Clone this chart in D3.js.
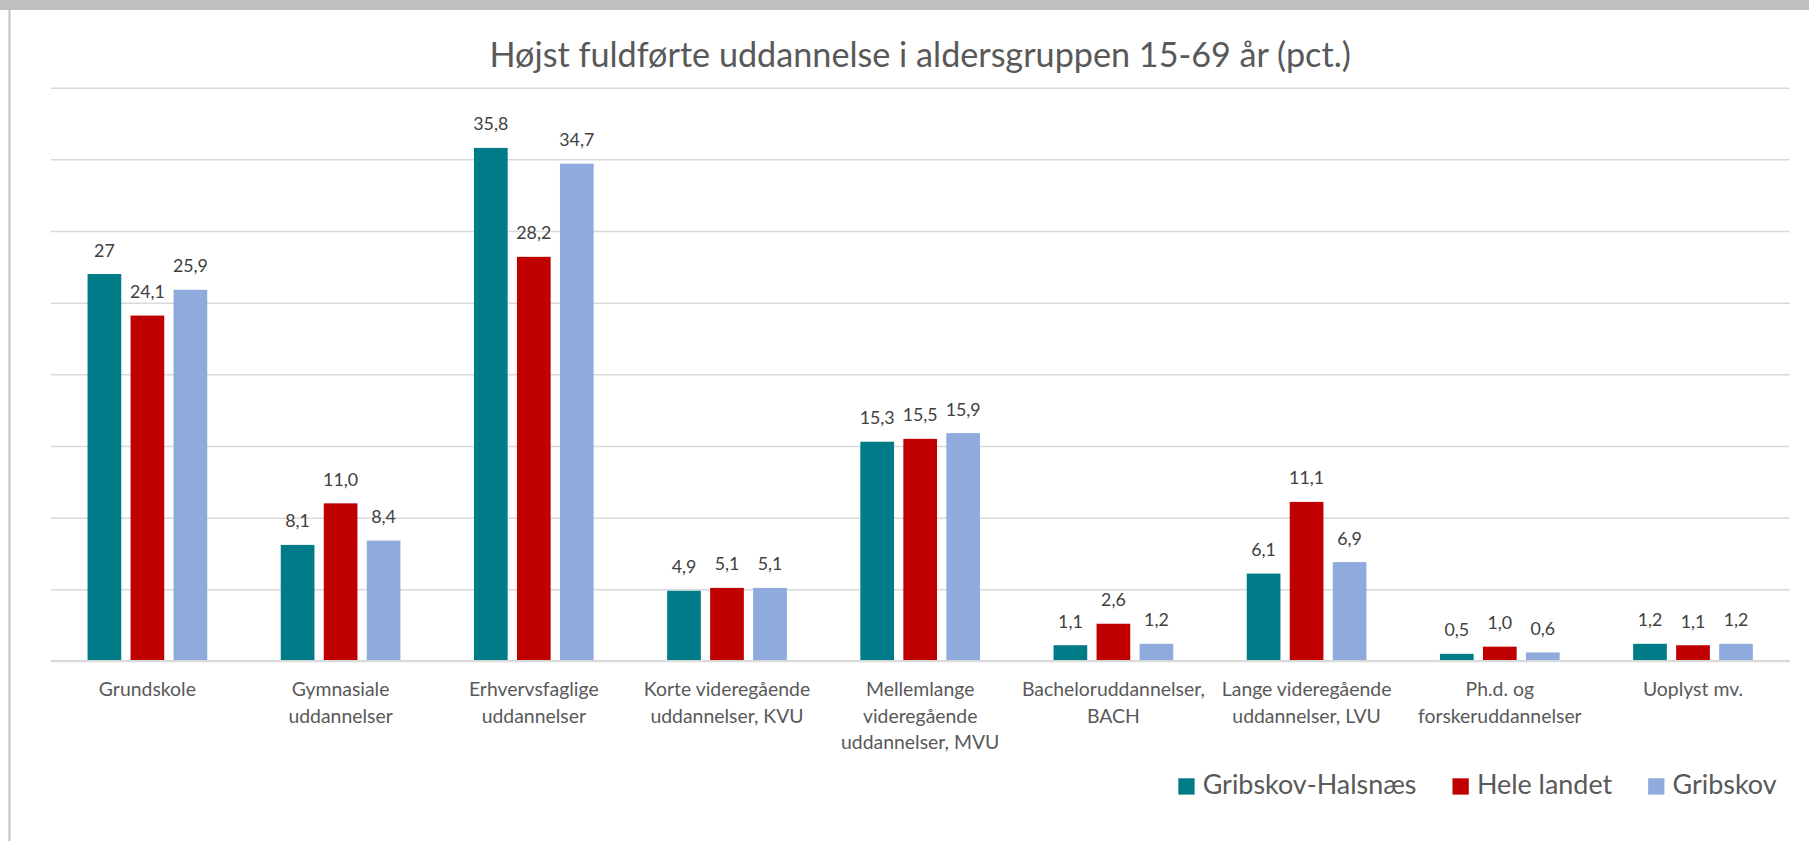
<!DOCTYPE html>
<html>
<head>
<meta charset="utf-8">
<script src="https://cdn.jsdelivr.net/npm/d3@7"></script>
<style>
  html, body { margin: 0; padding: 0; background: #fff; }
  svg { display: block; }
  text { font-family: Lato, "Open Sans", sans-serif; }
</style>
</head>
<body>
<svg id="chart" width="1809" height="841"></svg>
<script>
const title = "Højst fuldførte uddannelse i aldersgruppen 15-69 år (pct.)";
const categories = [
  ["Grundskole"],
  ["Gymnasiale", "uddannelser"],
  ["Erhvervsfaglige", "uddannelser"],
  ["Korte videregående", "uddannelser, KVU"],
  ["Mellemlange", "videregående", "uddannelser, MVU"],
  ["Bacheloruddannelser,", "BACH"],
  ["Lange videregående", "uddannelser, LVU"],
  ["Ph.d. og", "forskeruddannelser"],
  ["Uoplyst mv."]
];
const seriesNames = ["Gribskov-Halsnæs", "Hele landet", "Gribskov"];
const seriesColors = ["#007C89", "#C00000", "#8FAADC"];
const gribskovHalsnaes = [27, 8.1, 35.8, 4.9, 15.3, 1.1, 6.1, 0.5, 1.2];
const heleLandet = [24.1, 11.0, 28.2, 5.1, 15.5, 2.6, 11.1, 1.0, 1.1];
const gribskov = [25.9, 8.4, 34.7, 5.1, 15.9, 1.2, 6.9, 0.6, 1.2];
const labelsGH = ["27", "8,1", "35,8", "4,9", "15,3", "1,1", "6,1", "0,5", "1,2"];
const labelsHL = ["24,1", "11,0", "28,2", "5,1", "15,5", "2,6", "11,1", "1,0", "1,1"];
const labelsG = ["25,9", "8,4", "34,7", "5,1", "15,9", "1,2", "6,9", "0,6", "1,2"];
const yTicks = [0, 5, 10, 15, 20, 25, 30, 35, 40];

const seriesValues = [gribskovHalsnaes, heleLandet, gribskov];
const seriesLabels = [labelsGH, labelsHL, labelsG];

const svg = d3.select("#chart");
const W = 1809, H = 841;
const plot = { left: 50.8, right: 1789.6, top: 87.7, bottom: 661 };

// header band and left border
svg.append("rect").attr("x", 0).attr("y", 0).attr("width", W).attr("height", 10).attr("fill", "#BFBFBF");
svg.append("rect").attr("x", 8.5).attr("y", 10).attr("width", 2).attr("height", H - 10).attr("fill", "#BFBFBF");

const x0 = d3.scaleBand().domain(d3.range(categories.length)).range([plot.left, plot.right]).paddingInner(0).paddingOuter(0);
const y = d3.scaleLinear().domain([0, 40]).range([plot.bottom, plot.top]);

// gridlines
const grid = svg.append("g").attr("transform", `translate(${plot.left},0)`)
  .call(d3.axisLeft(y).tickValues(yTicks).tickSize(-(plot.right - plot.left)).tickFormat(""));
grid.select(".domain").remove();
grid.selectAll(".tick line").attr("stroke", "#D9D9D9").attr("stroke-width", 1.5);

// bars
const barW = 33.7, step = 43;
const x1 = d3.scaleBand().domain(d3.range(3)).range([-step * 1.5 + (step - barW) / 2, step * 1.5 - (step - barW) / 2]).paddingInner((step - barW) / step).paddingOuter(0);

seriesValues.forEach((vals, s) => {
  const g = svg.append("g");
  g.selectAll("rect").data(vals).enter().append("rect")
    .attr("x", (d, i) => x0(i) + x0.bandwidth() / 2 + x1(s))
    .attr("y", d => y(d))
    .attr("width", x1.bandwidth())
    .attr("height", d => y(0) - y(d))
    .attr("fill", seriesColors[s]);
  g.selectAll("text").data(vals).enter().append("text")
    .attr("x", (d, i) => x0(i) + x0.bandwidth() / 2 + x1(s) + x1.bandwidth() / 2)
    .attr("y", d => y(d) - 17.5)
    .attr("text-anchor", "middle")
    .attr("font-size", 17.8)
    .attr("fill", "#404040")
    .text((d, i) => seriesLabels[s][i]);
});

// baseline
svg.append("line").attr("x1", plot.left).attr("x2", plot.right).attr("y1", y(0)).attr("y2", y(0))
  .attr("stroke", "#D9D9D9").attr("stroke-width", 2);

// category labels
const cat = svg.append("g");
categories.forEach((lines, i) => {
  const t = cat.append("text")
    .attr("x", x0(i) + x0.bandwidth() / 2)
    .attr("y", 696)
    .attr("text-anchor", "middle")
    .attr("font-size", 19.4)
    .attr("fill", "#595959");
  lines.forEach((ln, k) => {
    t.append("tspan").attr("x", x0(i) + x0.bandwidth() / 2).attr("dy", k === 0 ? 0 : 26.7).text(ln);
  });
});

// title
svg.append("text").attr("x", (plot.left + plot.right) / 2).attr("y", 66.7)
  .attr("text-anchor", "middle").attr("font-size", 34.2).attr("fill", "#595959").text(title);

// legend
const leg = svg.append("g");
let lx = 1178.3;
seriesNames.forEach((name, s) => {
  leg.append("rect").attr("x", lx).attr("y", 778.3).attr("width", 16.3).attr("height", 16.3).attr("fill", seriesColors[s]);
  const t = leg.append("text").attr("x", lx + 24.4).attr("y", 794.3).attr("font-size", 26.9).attr("fill", "#595959").text(name);
  const w = t.node().getComputedTextLength();
  lx = lx + 24.4 + w + 36;
});
</script>
</body>
</html>
